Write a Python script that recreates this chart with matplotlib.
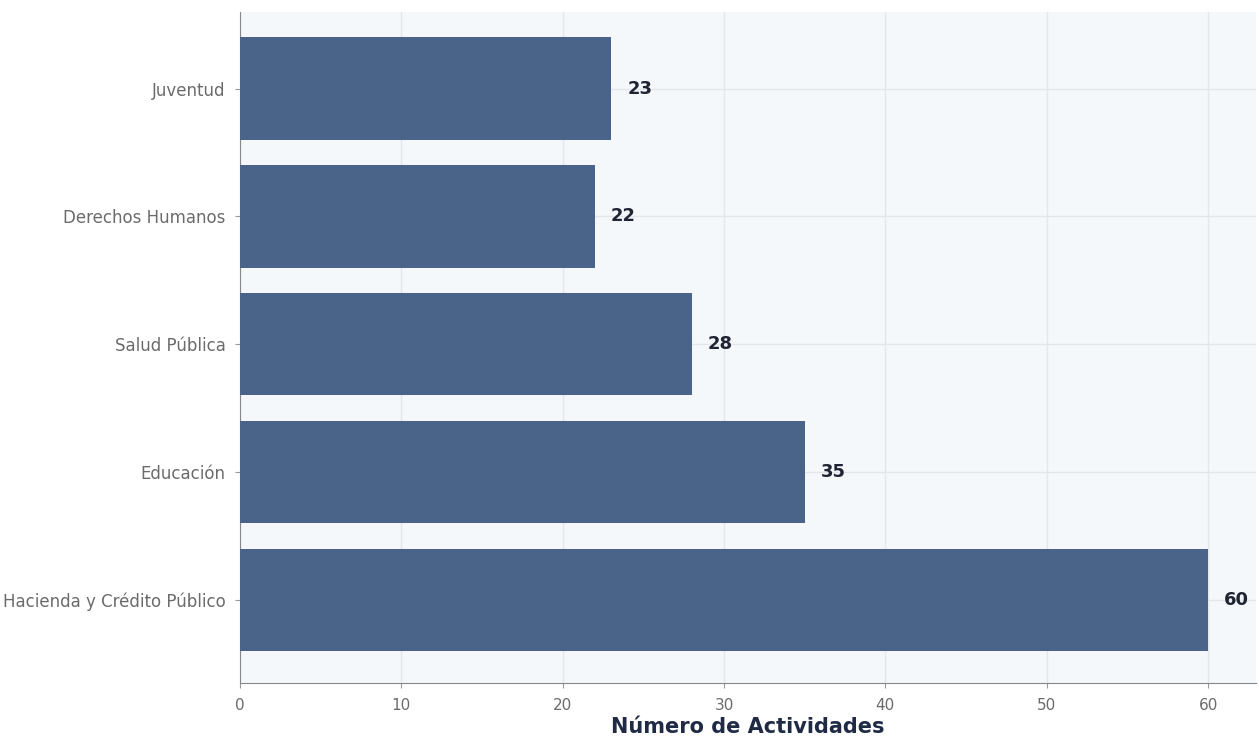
import matplotlib.pyplot as plt

categorias = ["Hacienda y Crédito Público", "Educación", "Salud Pública", "Derechos Humanos", "Juventud"]
actividades = [60, 35, 28, 22, 23]
xticks = [0, 10, 20, 30, 40, 50, 60]

fig = plt.figure(figsize=(12.59, 7.38), dpi=100)
ax = fig.add_axes([0.1906, 0.0745, 0.8074, 0.9095])
ax.set_facecolor("#f5f8fa")

barras = ax.barh(categorias, actividades, height=0.8, color="#4a6389", zorder=3)
for b, v in zip(barras, actividades):
    ax.text(b.get_width() + 1, b.get_y() + b.get_height() / 2, str(v),
            va="center", ha="left", fontsize=13, fontweight="bold", color="#1f2433")

ax.set_xlim(0, 63)
ax.set_ylim(-0.65, 4.6)
ax.set_xticks(xticks)
ax.grid(True, color="#e3e6ea", linewidth=1, zorder=0)
ax.tick_params(axis="both", colors="#999999", labelcolor="#6b6b6b")
ax.tick_params(axis="y", labelsize=12, pad=7)
ax.tick_params(axis="x", labelsize=11, pad=7)
for s in ["top", "right"]:
    ax.spines[s].set_visible(False)
for s in ["left", "bottom"]:
    ax.spines[s].set_color("#888888")
ax.set_xlabel("Número de Actividades", fontsize=15, fontweight="bold", color="#1f2a44", labelpad=3)

fig.savefig("out.png", dpi=100)
